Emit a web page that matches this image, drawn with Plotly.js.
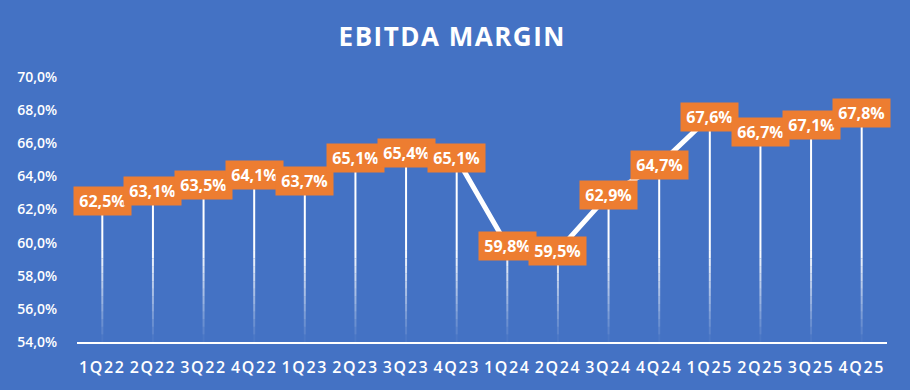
<!DOCTYPE html>
<html>
<head>
<meta charset="utf-8">
<script src="https://cdn.plot.ly/plotly-3.0.1.min.js"></script>
<style>
html,body{margin:0;padding:0;background:#4472C4;}
#chart{width:910px;height:390px;}
.xtick text{letter-spacing:1.6px;}
.gtitle{letter-spacing:1.5px;}
</style>
</head>
<body>
<div id="chart"></div>
<script>
const categories = ["1Q22","2Q22","3Q22","4Q22","1Q23","2Q23","3Q23","4Q23","1Q24","2Q24","3Q24","4Q24","1Q25","2Q25","3Q25","4Q25"];
const margin = [62.5,63.1,63.5,64.1,63.7,65.1,65.4,65.1,59.8,59.5,62.9,64.7,67.6,66.7,67.1,67.8];
const yTicks = [54,56,58,60,62,64,66,68,70];

const BLUE = '#4472C4', ORANGE = '#ED7D31', WHITE = '#FFFFFF';
const yMin = 54, yMax = 70;
const fadeTop = 59.5, fadeSteps = 12;
const fmt = v => v.toFixed(1).replace('.', ',') + '%';

const traces = [];
// solid part of drop lines
{
  const xs = [], ys = [];
  categories.forEach((c, i) => {
    if (margin[i] > fadeTop) { xs.push(c, c, null); ys.push(margin[i], fadeTop, null); }
  });
  traces.push({x: xs, y: ys, type: 'scatter', mode: 'lines', line: {color: WHITE, width: 2}, hoverinfo: 'skip', showlegend: false, connectgaps: false});
}
// fading part of drop lines
for (let k = 0; k < fadeSteps; k++) {
  const hi = fadeTop - (fadeTop - yMin) * k / fadeSteps;
  const lo = fadeTop - (fadeTop - yMin) * (k + 1) / fadeSteps;
  const xs = [], ys = [];
  categories.forEach((c, i) => {
    if (margin[i] > lo) { xs.push(c, c, null); ys.push(Math.min(margin[i], hi), lo, null); }
  });
  const op = 1 - (k + 0.5) / fadeSteps;
  traces.push({x: xs, y: ys, type: 'scatter', mode: 'lines', line: {color: 'rgba(255,255,255,' + op.toFixed(3) + ')', width: 2}, hoverinfo: 'skip', showlegend: false, connectgaps: false});
}
// main line
traces.push({x: categories, y: margin, type: 'scatter', mode: 'lines', line: {color: WHITE, width: 5}, showlegend: false});

const annotations = categories.map((c, i) => ({
  x: c, y: margin[i], xref: 'x', yref: 'y', showarrow: false,
  text: fmt(margin[i]),
  font: {family: 'Open Sans', size: 16, color: WHITE, weight: 700},
  bgcolor: ORANGE, borderpad: 4, width: 49, height: 20,
  xanchor: 'center', yanchor: 'middle'
}));

const layout = {
  width: 910, height: 390,
  paper_bgcolor: BLUE, plot_bgcolor: BLUE,
  margin: {l: 77, r: 23, t: 77, b: 48},
  title: {text: 'EBITDA MARGIN', x: 0.497, xanchor: 'center', xref: 'container', y: 0.905, yref: 'container', yanchor: 'middle',
          font: {family: 'Open Sans', size: 26, color: WHITE, weight: 700}},
  xaxis: {type: 'category', categoryorder: 'array', categoryarray: categories,
          range: [-0.5, categories.length - 0.5], showgrid: false, zeroline: false,
          showline: true, linecolor: WHITE, linewidth: 2,
          ticks: 'outside', ticklen: 10, tickcolor: 'rgba(0,0,0,0)',
          tickfont: {family: 'Open Sans', size: 16, color: WHITE, weight: 600}, fixedrange: true},
  yaxis: {range: [yMin, yMax], tickmode: 'array', tickvals: yTicks, ticktext: yTicks.map(fmt),
          showgrid: false, zeroline: false,
          showline: false, ticks: 'outside', ticklen: 16, tickcolor: 'rgba(0,0,0,0)',
          tickfont: {family: 'Open Sans', size: 14, color: WHITE, weight: 600}, fixedrange: true},
  annotations: annotations,
  hovermode: false
};

Plotly.newPlot('chart', traces, layout, {displayModeBar: false, staticPlot: true});
</script>
</body>
</html>
